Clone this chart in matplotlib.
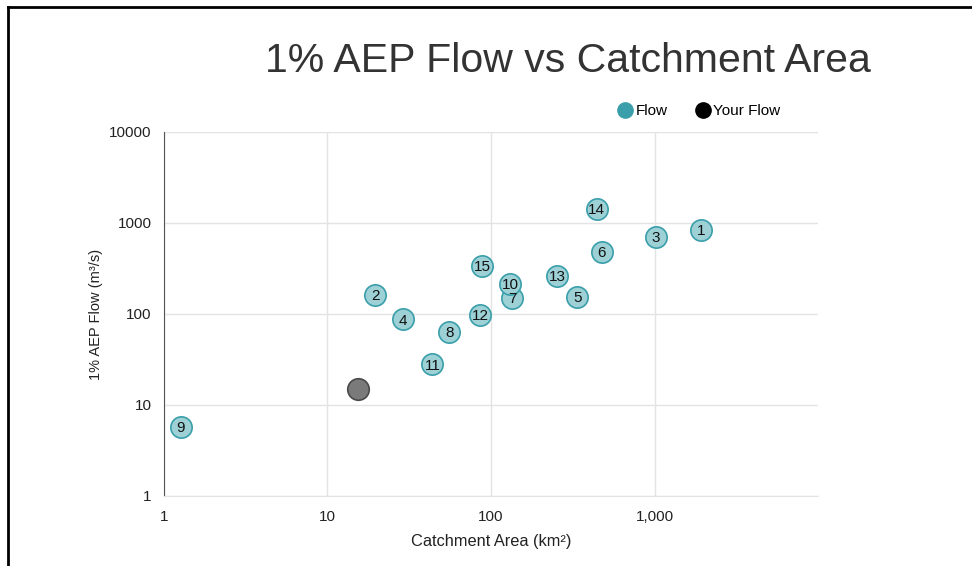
#
# 1% AEP flow against catchment area, log-log scatter with site numbers
#

import matplotlib
matplotlib.use('Agg')
import matplotlib.pyplot as plt
from matplotlib.ticker import FixedLocator, FixedFormatter, NullLocator
from matplotlib.lines import Line2D

plt.rcParams['font.family'] = ['Liberation Sans', 'DejaVu Sans']

# site data
site_ids = [1, 2, 3, 4, 5, 6, 7, 8, 9, 10, 11, 12, 13, 14, 15]
areas = [1915, 19.6, 1016, 29.1, 338, 475, 135, 55.6, 1.27, 131, 43.8, 86.1, 255, 442, 88.5]
flows = [838, 162, 702, 88, 154, 480, 150, 63.4, 5.73, 214, 28.2, 97.5, 262, 1425, 337]

your_area = [15.4]
your_flow = [15.0]

x_ticks = [1, 10, 100, 1000]
x_tick_labels = ["1", "10", "100", "1,000"]
y_ticks = [1, 10, 100, 1000, 10000]
y_tick_labels = ["1", "10", "100", "1000", "10000"]

TEAL = "#3a9faa"
GRID = "#e3e3e3"


def main():
	fig = plt.figure(figsize=(9.72, 5.66), dpi=100)
	ax = fig.add_axes([0.1687, 0.1237, 0.6729, 0.6431])

	ax.set_xscale('log')
	ax.set_yscale('log')
	ax.set_xlim(1, 10000)
	ax.set_ylim(1, 10000)

	ax.scatter(areas, flows, s=235, facecolor="#9dd1d6", edgecolor=TEAL,
		linewidth=1.2, zorder=3)
	for sid, a, f in zip(site_ids, areas, flows):
		ax.text(a, f, str(sid), ha='center', va='center_baseline',
			fontsize=11, color="#111111", zorder=4)

	ax.scatter(your_area, your_flow, s=240, facecolor="#7a7a7a",
		edgecolor="#4a4a4a", linewidth=1.2, zorder=3)

	ax.xaxis.set_major_locator(FixedLocator(x_ticks))
	ax.xaxis.set_major_formatter(FixedFormatter(x_tick_labels))
	ax.xaxis.set_minor_locator(NullLocator())
	ax.yaxis.set_major_locator(FixedLocator(y_ticks))
	ax.yaxis.set_major_formatter(FixedFormatter(y_tick_labels))
	ax.yaxis.set_minor_locator(NullLocator())

	ax.grid(True, color=GRID, linewidth=1.0)
	ax.set_axisbelow(True)
	ax.tick_params(length=0, labelsize=11, colors="#222222")
	ax.tick_params(axis='y', pad=9)
	ax.tick_params(axis='x', pad=10)

	for side in ['top', 'right']:
		ax.spines[side].set_visible(False)
	ax.spines['bottom'].set_color(GRID)
	ax.spines['left'].set_color("#555555")

	ax.set_xlabel("Catchment Area (km²)", fontsize=11.8, color="#222222",
		labelpad=7)
	ax.set_ylabel("1% AEP Flow (m³/s)", fontsize=10.5, color="#222222",
		labelpad=4)

	fig.text(0.584, 0.893, "1% AEP Flow vs Catchment Area", ha='center',
		va='center', fontsize=29.5, color="#333333")

	handles = [
		Line2D([], [], marker='o', linestyle='', markersize=11,
			markerfacecolor=TEAL, markeredgecolor=TEAL, label="Flow"),
		Line2D([], [], marker='o', linestyle='', markersize=11,
			markerfacecolor="black", markeredgecolor="black", label="Your Flow"),
	]
	fig.legend(handles=handles, loc='center', bbox_to_anchor=(0.7185, 0.804),
		ncol=2, frameon=False, fontsize=11, handletextpad=0.05,
		columnspacing=1.76, handlelength=1.2)

	# frame edges visible in the reference crop
	fig.add_artist(Line2D([0.0085, 1.0], [0.9875, 0.9875], color='black',
		linewidth=2, transform=fig.transFigure))
	fig.add_artist(Line2D([0.0085, 0.0085], [0.0, 0.9875], color='black',
		linewidth=2, transform=fig.transFigure))

	fig.savefig("out.png", dpi=100)
	plt.close()


if __name__ == "__main__":
	main()
